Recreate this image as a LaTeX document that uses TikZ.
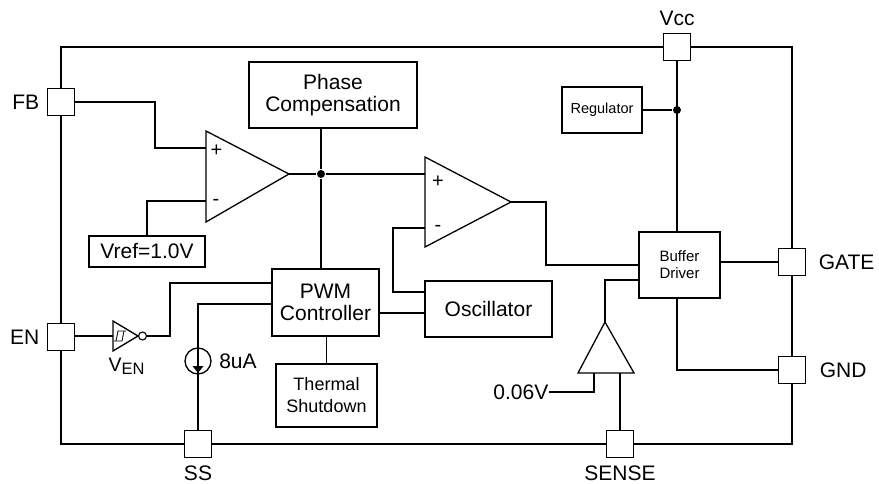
\documentclass[tikz,border=0pt]{standalone}
\usepackage{fontspec}
\setmainfont{Liberation Sans}
\usetikzlibrary{positioning,calc}
\tikzset{
  blk/.style={draw, align=center, inner sep=0pt, font=\fontsize{21}{22.5}\selectfont},
  pad/.style={draw, minimum size=27pt, inner sep=0pt, fill=white},
  pinlbl/.style={font=\fontsize{21}{23}\selectfont, inner sep=0pt},
  sgn/.style={font=\fontsize{20}{20}\selectfont, inner sep=0pt},
  dot/.style={circle, fill, inner sep=0pt, minimum size=8pt},
}
\begin{document}
\begin{tikzpicture}[x=1pt, y=-1pt, line width=1.3pt]
    \useasboundingbox (0,0) rectangle (879,484);
    % pads
    \node[pad] (vcc) at (677,47) {};
    \node[pad] (fb) at (61,102) {};
    \node[pad] (en) at (61,337) {};
    \node[pad] (ss) at (198,444) {};
    \node[pad] (sense) at (620,444) {};
    \node[pad] (gate) at (792,262) {};
    \node[pad] (gnd) at (792,370) {};
    \node[pinlbl, above=6pt of vcc] {Vcc};
    \node[pinlbl, left=7pt of fb] {FB};
    \node[pinlbl, left=7pt of en] {EN};
    \node[pinlbl, below=7pt of ss] {SS};
    \node[pinlbl, below=7pt of sense] {SENSE};
    \node[pinlbl, right=12pt of gate] {GATE};
    \node[pinlbl, right=13pt of gnd] {GND};

    % package outline
    \draw (vcc.west) -| (fb.north);
    \draw (vcc.east) -| (gate.north);
    \draw (gate.south) -- (gnd.north);
    \draw (gnd.south) |- (sense.east);
    \draw (sense.west) -- (ss.east);
    \draw (ss.west) -| (en.south);
    \draw (en.north) -- (fb.south);

    % blocks
    \node[blk, minimum width=168pt, minimum height=66pt] (pcomp) at (333,95) {Phase\\Compensation};
    \node[blk, minimum width=107pt, minimum height=67pt] (pwm) at (325.5,302.5) {PWM\\Controller};
    \node[blk, minimum width=127pt, minimum height=56pt] (osc) at (488.5,309) {Oscillator};
    \node[blk, minimum width=101pt, minimum height=63pt, font=\fontsize{18}{22}\selectfont] (thsd) at (326.5,395.5) {Thermal\\Shutdown};
    \node[blk, minimum width=116pt, minimum height=31pt] (vref) at (147,251.5) {Vref=1.0V};
    \node[blk, minimum width=80pt, minimum height=46pt, font=\fontsize{14.5}{16}\selectfont] (reg) at (602,110) {Regulator};
    \node[blk, minimum width=81pt, minimum height=66pt, font=\fontsize{15}{17}\selectfont] (buf) at (679.5,265) {Buffer\\Driver};

    % error amplifier
    \draw (206,131) -- (289,174) coordinate (ea out) -- (206,222) -- cycle;
    \coordinate (ea p) at (206,148);
    \coordinate (ea n) at (206,201);
    \node[sgn] at ([xshift=10.5pt,yshift=-3pt]ea p) {+};
    \node[sgn] at ([xshift=10pt,yshift=-1pt]ea n) {-};

    % pwm comparator
    \draw (425,157) -- (511,202) coordinate (pc out) -- (425,247) -- cycle;
    \coordinate (pc p) at (425,174);
    \coordinate (pc n) at (425,228);
    \node[sgn] at ([xshift=13pt,yshift=-8pt]pc p) {+};
    \node[sgn] at ([xshift=13pt]pc n) {-};

    % current sense comparator
    \draw (605,322) coordinate (cs out) -- (634,373) -- (578,373) -- cycle;
    \coordinate (cs n) at (594,373);
    \coordinate (cs p) at (620,373);
    \node[pinlbl, anchor=east] (ref006) at (549,392) {0.06V};

    % enable inverter
    \draw (113,321) -- (138,336) -- (113,351) -- cycle;
    \node[circle, draw, minimum size=8pt, inner sep=0pt, line width=1.1pt] (bub) at (142.5,336) {};
    \coordinate (inv in) at (113,336);
    \draw[line width=0.8pt] (114,341) -- (122,341) -- (124,331);
    \draw[line width=0.8pt] (116,341) -- (118,331) -- (126,331);
    \node[pinlbl, anchor=base west, font=\fontsize{19.5}{20}\selectfont] at (108,371) {V{\fontsize{16.5}{16}\selectfont\raisebox{-3pt}{EN}}};

    % soft start current
    \node[circle, draw, minimum size=26pt, inner sep=0pt] (isrc) at (198,361) {};
    \fill (192.5,366) -- (203.5,366) -- (198,373) -- cycle;
    \node[pinlbl, right=7pt of isrc] {8uA};

    % junctions
    \node[dot] (j1) at (321,174) {};
    \node[dot] (j2) at (vcc.south |- reg.east) {};

    % connections
    \draw (fb.east) -| ([xshift=-51pt]ea p) -- (ea p);
    \draw (ea n) -| (vref.north);
    \draw (ea out) -- (j1) -- (pc p);
    \draw (j1) -- (j1 |- pcomp.south);
    \draw (j1) -- (j1 |- pwm.north);
    \draw (pc n) -- ++(-32,0) |- ([yshift=17pt]osc.west);
    \draw ([yshift=-4pt]osc.west) -- ([yshift=-4pt]osc.west -| pwm.east);
    \draw (pc out) -- ++(35,0) |- (buf.west);
    \draw (pwm.south -| thsd.north) -- (thsd.north);
    \draw (en.east |- inv in) -- (inv in);
    \draw (bub.east) -- ++(23,0) |- ([yshift=19.5pt]pwm.west);
    \draw ([yshift=-1.5pt]pwm.west) -| (ss.north);
    \draw (cs out) |- ([yshift=-15pt]buf.west);
    \draw (ref006.east) -| (cs n);
    \draw (cs p) -- (sense.north);
    \draw (vcc.south) -- (vcc.south |- buf.north);
    \draw (reg.east) -- (j2);
    \draw (gate.west -| buf.east) -- (gate.west);
    \draw (vcc.south |- buf.south) |- (gnd.west);
\end{tikzpicture}
\end{document}
